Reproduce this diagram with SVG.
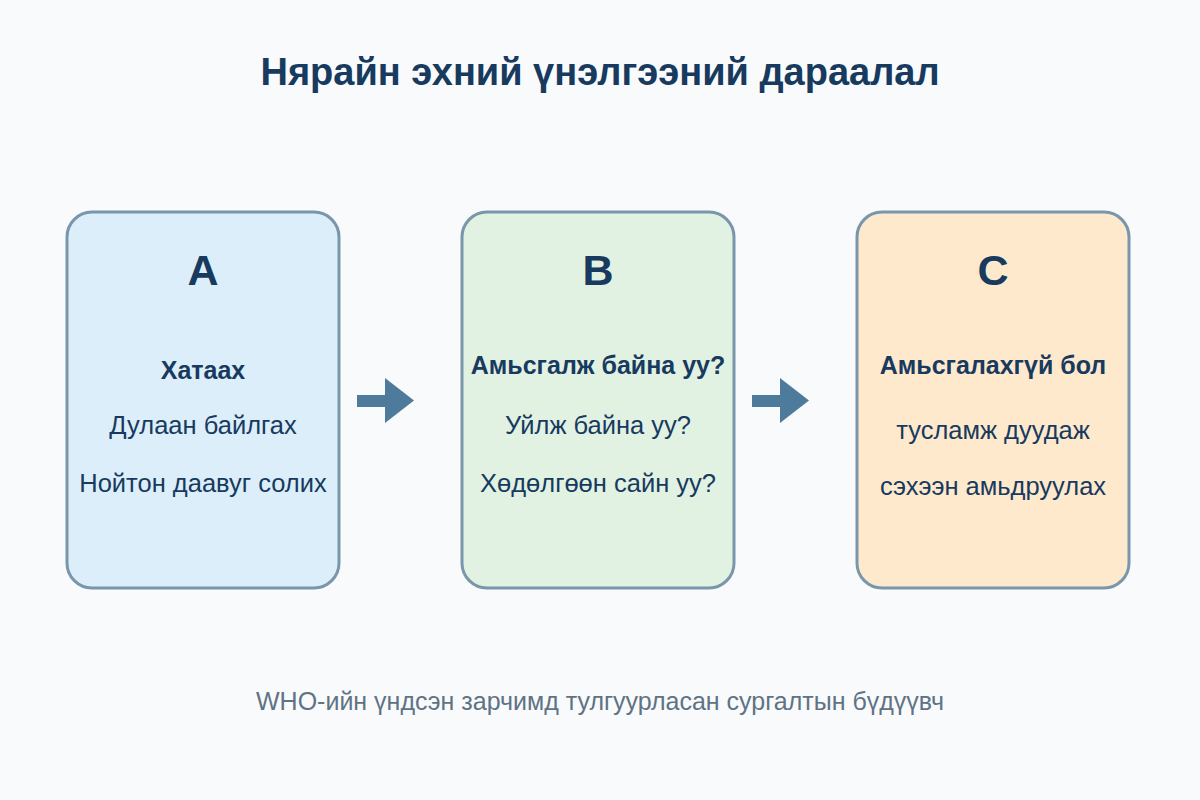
<svg xmlns="http://www.w3.org/2000/svg" width="1200" height="800" viewBox="0 0 1200 800">
<style>
.t{font-family:"Liberation Sans",Arial,sans-serif;fill:#173a5e;text-anchor:middle}
.title{font-size:38px;font-weight:bold}
.letter{font-size:43px;font-weight:bold}
.h{font-size:25px;font-weight:bold}
.n{font-size:25.5px}
.box{stroke:#7a96aa;stroke-width:3}
.foot{font-family:"Liberation Sans",Arial,sans-serif;font-size:25px;fill:#5f7384;text-anchor:middle}
.arr{fill:#4e7a9c}
</style>
<rect width="1200" height="800" fill="#f8fafc"/>
<text class="t title" x="600" y="85">Нярайн эхний үнэлгээний дараалал</text>
<g id="nodeA">
<rect class="box" x="67" y="212" width="272" height="376" rx="25" fill="#dbeefa"/>
<text class="t letter" x="203" y="285">A</text>
<text class="t h" x="203" y="379">Хатаах</text>
<text class="t n" x="203" y="434">Дулаан байлгах</text>
<text class="t n" x="203" y="492">Нойтон даавуг солих</text>
</g>
<g id="nodeB">
<rect class="box" x="462" y="212" width="272" height="376" rx="25" fill="#e1f2e3"/>
<text class="t letter" x="598" y="285">B</text>
<text class="t h" x="598" y="374">Амьсгалж байна уу?</text>
<text class="t n" x="598" y="434">Уйлж байна уу?</text>
<text class="t n" x="598" y="492">Хөдөлгөөн сайн уу?</text>
</g>
<g id="nodeC">
<rect class="box" x="857" y="212" width="272" height="376" rx="25" fill="#ffe9cc"/>
<text class="t letter" x="993" y="285">C</text>
<text class="t h" x="993" y="374">Амьсгалахгүй бол</text>
<text class="t n" x="993" y="439">тусламж дуудаж</text>
<text class="t n" x="993" y="495">сэхээн амьдруулах</text>
</g>
<g id="connectors">
<g class="arr">
<rect x="357" y="395" width="40" height="12"/>
<polygon points="385,378 414,400.5 385,423"/>
<rect x="752" y="395" width="40" height="12"/>
<polygon points="780,378 809,400.5 780,423"/>
</g>
</g>
<text class="foot" x="600" y="710">WHO-ийн үндсэн зарчимд тулгуурласан сургалтын бүдүүвч</text>
</svg>
